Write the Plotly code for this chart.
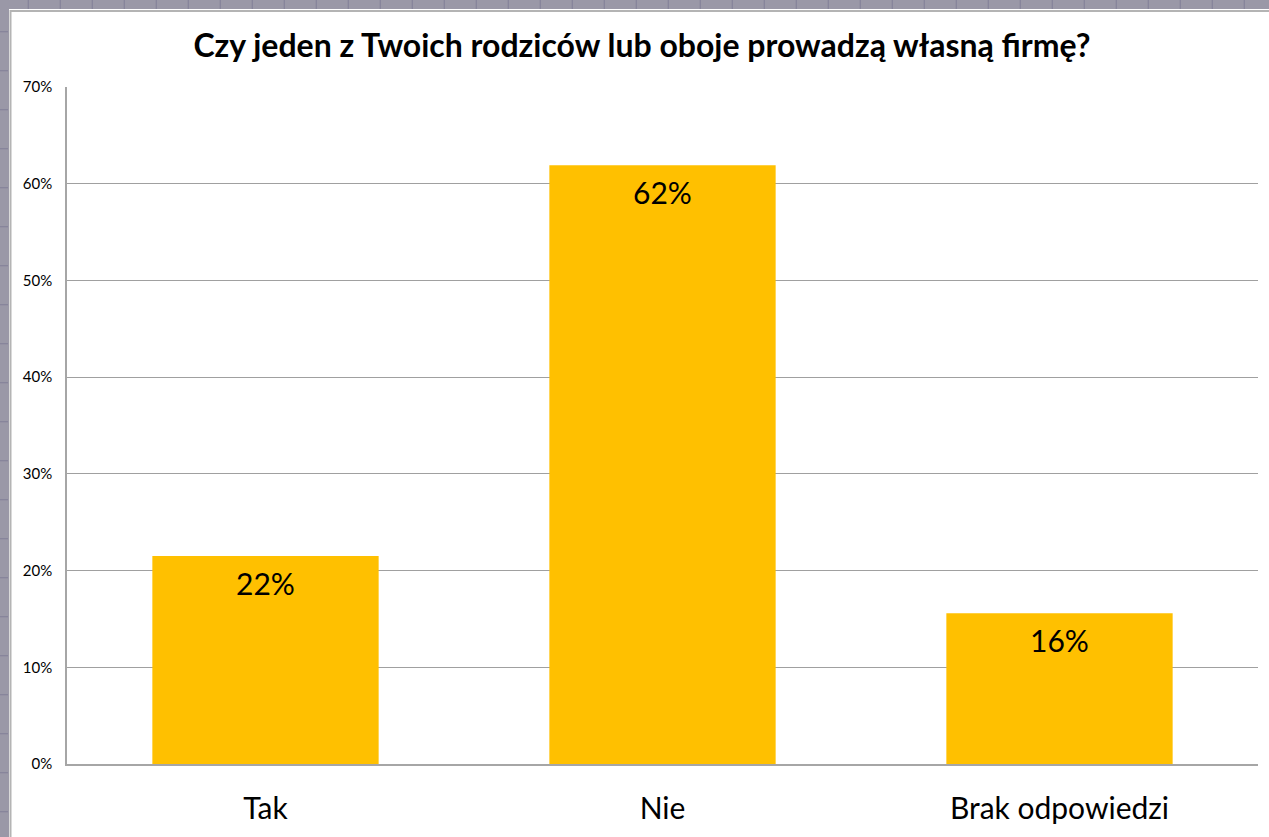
import plotly.graph_objects as go

categories = ["Tak", "Nie", "Brak odpowiedzi"]
values = [0.215, 0.619, 0.156]
labels = ["22%", "62%", "16%"]
y_ticks = [0, 0.1, 0.2, 0.3, 0.4, 0.5, 0.6, 0.7]
y_tick_labels = ["0%", "10%", "20%", "30%", "40%", "50%", "60%", "70%"]
title_text = "Czy jeden z Twoich rodziców lub oboje prowadzą własną firmę?"

W, H = 1269, 837
L, R, T, B = 67, 11, 87, 73
PW, PH = W - L - R, H - T - B

def px(x):
    return (x - L) / PW

def py(y):
    return (H - B - y) / PH

FONT = "Lato"
GRAY_BG = "#9a98a7"
GRAY_LINE = "#85839a"

fig = go.Figure()
fig.add_trace(go.Bar(
    x=categories, y=values, marker=dict(color="#FFC000", line=dict(width=0)),
    hoverinfo="skip",
))

for c, v, t in zip(categories, values, labels):
    fig.add_annotation(x=c, y=v, text=t, showarrow=False, yanchor="top", yshift=-7,
                       font=dict(family=FONT, size=30, color="#000000"))

shapes = []
shapes.append(dict(type="rect", xref="paper", yref="paper", layer="below",
                   x0=px(9), x1=px(W + 5), y0=py(H + 5), y1=py(9),
                   fillcolor="white", line=dict(width=0)))
shapes.append(dict(type="rect", xref="paper", yref="paper", layer="below",
                   x0=px(10.5), x1=px(W + 5), y0=py(H + 5), y1=py(11),
                   fillcolor="rgba(0,0,0,0)", line=dict(color="#b4b4b4", width=2)))
xg = 28.3
while xg < W:
    shapes.append(dict(type="line", xref="paper", yref="paper", layer="below",
                       x0=px(xg), x1=px(xg), y0=py(0), y1=py(9),
                       line=dict(color=GRAY_LINE, width=1.2)))
    xg += 32
yg = 31.7
while yg < H:
    shapes.append(dict(type="line", xref="paper", yref="paper", layer="below",
                       x0=px(0), x1=px(8), y0=py(yg), y1=py(yg),
                       line=dict(color=GRAY_LINE, width=1.2)))
    yg += 39

fig.update_layout(
    width=W, height=H,
    margin=dict(l=L, r=R, t=T, b=B, pad=0, autoexpand=False),
    paper_bgcolor=GRAY_BG, plot_bgcolor="white",
    showlegend=False,
    bargap=0.43,
    shapes=shapes,
    title=dict(text="<b>" + title_text + "</b>", xref="paper", yref="container",
               x=px(642), xanchor="center", y=1 - 46 / H, yanchor="middle",
               font=dict(family=FONT, size=32, color="#000000")),
    font=dict(family=FONT, color="#000000"),
)
fig.update_xaxes(
    automargin=False,
    showline=True, linecolor="#a6a6a6", linewidth=1.5, mirror=False,
    showgrid=False, ticks="", tickfont=dict(family=FONT, size=30, color="#000000"),
    ticklabelstandoff=17,
)
fig.update_yaxes(
    automargin=False,
    range=[0, 0.7], tickvals=y_ticks, ticktext=y_tick_labels,
    showline=True, linecolor="#a6a6a6", linewidth=1.5,
    showgrid=True, gridcolor="#a0a0a0", gridwidth=1,
    zeroline=False, ticks="", tickfont=dict(family=FONT, size=15, color="#000000"),
    ticklabelstandoff=10,
)

post = (
    "var s=document.createElement('style');"
    "s.textContent='html,body{margin:0;padding:0;overflow:hidden;height:837px;}"
    "body>div{display:block;line-height:0;height:837px;overflow:hidden;}';"
    "document.head.appendChild(s);"
)

fig.write_html(
    "out.html",
    config={"displayModeBar": False, "responsive": False},
    post_script=post,
)
